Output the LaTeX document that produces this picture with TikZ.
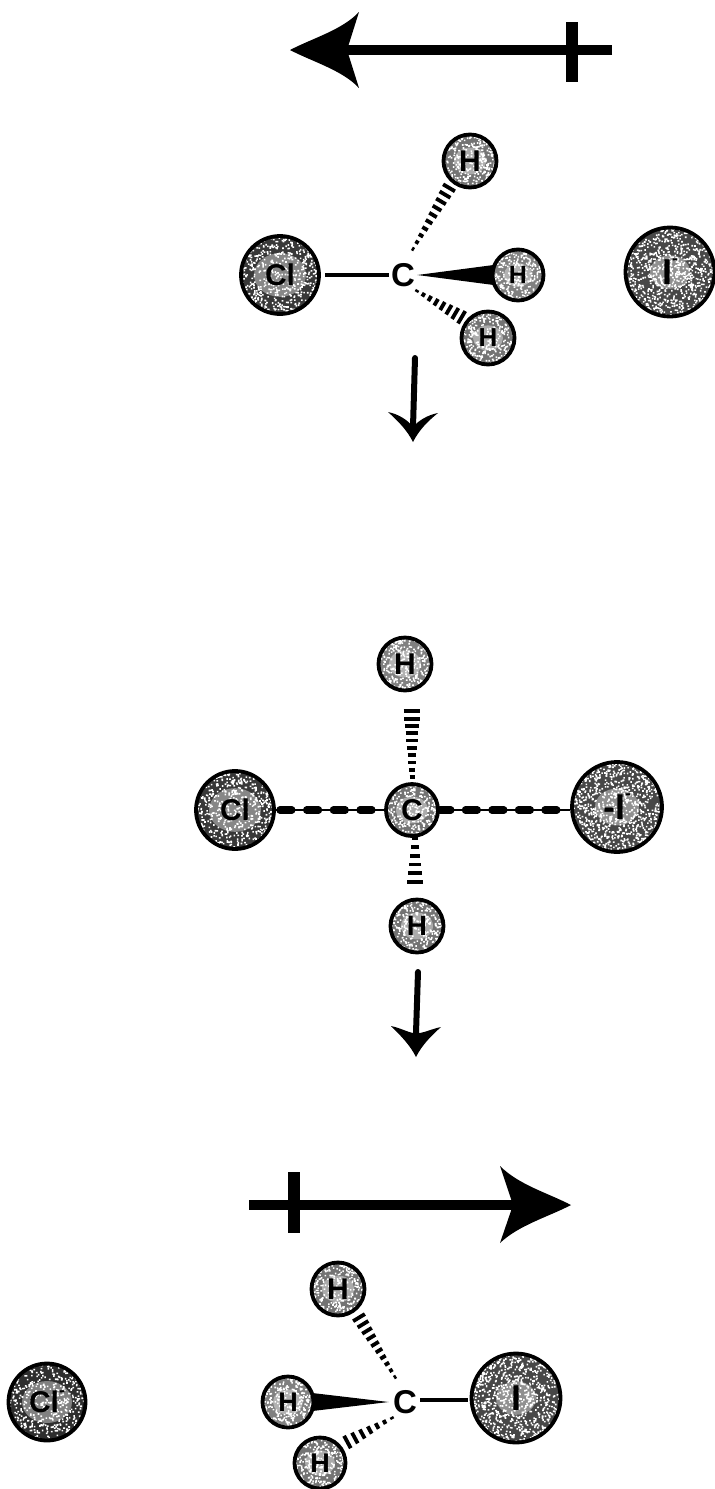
\documentclass[tikz,border=0pt]{standalone}
\usepackage{fontspec}
\setmainfont{Liberation Sans}
\usetikzlibrary{calc}
\tikzset{
  atom/.style={circle,draw=black,line width=1.9pt,inner sep=0pt,text=black,font=\bfseries},
  thinbond/.style={line width=1.6pt},
  hashstripe/.style={line width=1.9pt,line cap=butt},
  arrowfill/.style={fill=black,draw=none},
  majorshaft/.style={line width=4.6pt,line cap=butt},
  minorshaft/.style={line width=3pt,line cap=round},
  blob/.style={line width=3.6pt,line cap=round},
  carbon/.style={inner sep=0pt,font=\bfseries\fontsize{16.5pt}{16.5pt}\selectfont}
}
% name, x, y, radius(px), label, font size(pt), base gray %, white density, halo radius
\newcommand{\atomball}[9]{%
  \begin{scope}
    \clip (#2,#3) circle[radius=#4*0.5pt];
    \fill[black!#7!white] (#2,#3) circle[radius=#4*0.5pt];
    \pgfmathtruncatemacro{\nd}{4*#4*#4*#8/2.6}
    \fill[white] \foreach \q in {1,...,\nd}{ ({#2+#4*(2*rnd-1)},{#3+#4*(2*rnd-1)}) rectangle ++(1.6,1.6) };
    \fill[white,opacity=.4] (#2,#3) ellipse[x radius=#9*0.5pt,y radius=#9*0.42pt];
  \end{scope}
  \node[atom,minimum size=#4*1pt] (#1) at (#2,#3) {\fontsize{#6pt}{#6pt}\selectfont #5};
}
\newcommand{\hashbond}[5]{% from, to, count, start width, end width (px)
  \pgfmathtruncatemacro{\lastk}{#3-1}
  \foreach \k in {0,...,\lastk}{
    \pgfmathsetmacro{\tq}{\k/(#3-1)}
    \pgfmathsetmacro{\ww}{#4+(#5-#4)*\tq}
    \coordinate (hs) at ($(#1)!\tq!(#2)$);
    \draw[hashstripe] ($(hs)!\ww*0.25pt!90:(#2)$) -- ($(hs)!\ww*0.25pt!-90:(#2)$);
  }
}
\newcommand{\negsup}{\raisebox{0.55em}{\fontsize{9pt}{9pt}\selectfont -}}
\begin{document}
\begin{tikzpicture}[x=0.5pt,y=-0.5pt]
\pgfmathsetseed{4711}
\useasboundingbox (0,0) rectangle (714,1489);

% ---- top reaction arrow
\coordinate (ta0) at (612,50);
\coordinate (ta1) at (347,50);
\coordinate (tb0) at (572,22);
\coordinate (tb1) at (572,82);
\draw[majorshaft] (ta0) -- (ta1);
\draw[line width=5.6pt] (tb0) -- (tb1);
\fill[arrowfill] (290,50) .. controls (313,38) and (342,30) .. (359,12) -- (ta1) -- (359,88) .. controls (342,70) and (313,62) .. (290,50) -- cycle;

% ---- first molecule
\atomball{ClA}{280}{275}{39}{Cl}{15}{78}{.27}{26}
\atomball{HA}{470}{161}{26.5}{H}{15}{55}{.34}{16}
\atomball{HB}{518}{275}{25.5}{H}{12.5}{50}{.36}{14}
\atomball{HC}{488}{338}{26.5}{H}{13}{55}{.34}{15}
\atomball{IA}{670}{272}{44.5}{I\negsup}{18}{72}{.34}{20}
\node[carbon] (CA) at (403,275) {C};
\path (ClA.east) ++(4,0) coordinate (ca) (CA.west) ++(-2,0) coordinate (cb);
\draw[thinbond] (ca) -- (cb);
\coordinate (h1s) at (413,249);
\coordinate (h1e) at (453,181);
\hashbond{h1s}{h1e}{11}{2.5}{15}
\coordinate (h3s) at (417,291);
\coordinate (h3e) at (468,321);
\hashbond{h3s}{h3e}{9}{2.5}{16}
\fill ($(CA.east)+(2,0)$) -- ($(HB.west)+(3,-10)$) -- ($(HB.west)+(3,10)$) -- cycle;

% ---- arrow 1
\coordinate (a1s) at (415,358);
\coordinate (a1e) at (413,427);
\draw[minorshaft] (a1s) -- (a1e);
\fill[arrowfill] (413,442) .. controls (407,430) and (398,421) .. (388,412) .. controls (398,414) and (408,420) .. (a1e) .. controls (419,420) and (428,415) .. (438,413) .. controls (428,421) and (419,430) .. (413,442) -- cycle;

% ---- transition state
\atomball{ClB}{235}{810}{39}{Cl}{15}{78}{.27}{26}
\atomball{CB}{412}{810}{26}{C}{15}{55}{.34}{16}
\atomball{IB}{617}{807}{45}{-I\negsup}{18}{72}{.34}{22}
\atomball{HD}{405}{664}{26.5}{H}{15}{50}{.36}{16}
\atomball{HE}{417}{926}{26.5}{H}{14}{55}{.34}{16}
\coordinate (h4s) at (412,777);
\coordinate (h4e) at (412,704);
\hashbond{h4s}{h4e}{11}{5}{18}
\coordinate (h5s) at (415,838);
\coordinate (h5e) at (415,891);
\hashbond{h5s}{h5e}{7}{6}{18}
\coordinate (dl0) at (ClB.east);
\coordinate (dl1) at (CB.west);
\coordinate (dr0) at (CB.east);
\coordinate (dr1) at (IB.west |- CB.east);
\draw[line width=1pt] (dl0) -- (dl1);
\draw[line width=1pt] (dr0) -- (dr1);
\draw[blob,dash pattern=on 6pt off 7.35pt,dash phase=11.35pt] (dl0) -- (dl1);
\draw[blob,dash pattern=on 6pt off 7.25pt,dash phase=0.5pt] (dr0) -- ($(dr1)+(-6,0)$);

% ---- arrow 2
\coordinate (a2s) at (418,972);
\coordinate (a2e) at (416,1033);
\draw[minorshaft] (a2s) -- (a2e);
\fill[arrowfill] (416,1057) .. controls (410,1045) and (401,1036) .. (391,1026) .. controls (401,1028) and (411,1034) .. (a2e) .. controls (422,1034) and (431,1029) .. (441,1027) .. controls (431,1036) and (422,1045) .. (416,1057) -- cycle;

% ---- bottom reaction arrow
\coordinate (ba0) at (249,1205);
\coordinate (ba1) at (513,1205);
\coordinate (bb0) at (294,1172);
\coordinate (bb1) at (294,1233);
\draw[majorshaft] (ba0) -- (ba1);
\draw[line width=5.6pt] (bb0) -- (bb1);
\fill[arrowfill] (571,1205) .. controls (548,1193) and (519,1185) .. (500,1166) -- (ba1) -- (500,1243) .. controls (519,1225) and (548,1217) .. (571,1205) -- cycle;

% ---- product molecule
\atomball{ClC}{47}{1402}{38.5}{Cl\negsup}{15}{82}{.25}{25}
\atomball{IC}{516}{1398}{44.5}{I}{18}{72}{.34}{20}
\atomball{HF}{338}{1289}{26.5}{H}{15}{55}{.34}{16}
\atomball{HG}{288}{1402}{25.5}{H}{13.5}{50}{.36}{15}
\atomball{HH}{320}{1463}{25.5}{H}{13.5}{55}{.34}{15}
\node[carbon] (CC) at (405,1402) {C};
\path (CC.east) ++(3,-2) coordinate (cc) (IC.west) ++(-2,2) coordinate (cd);
\draw[thinbond] (cc) -- (cd |- cc);
\coordinate (h6s) at (395,1377);
\coordinate (h6e) at (355,1311);
\hashbond{h6s}{h6e}{11}{2.5}{15}
\coordinate (h7s) at (392,1418);
\coordinate (h7e) at (340,1446);
\hashbond{h7s}{h7e}{8}{2.5}{16}
\fill ($(CC.west)+(-4,0)$) -- ($(HG.east)+(-3,-9)$) -- ($(HG.east)+(-3,9)$) -- cycle;
\end{tikzpicture}
\end{document}
